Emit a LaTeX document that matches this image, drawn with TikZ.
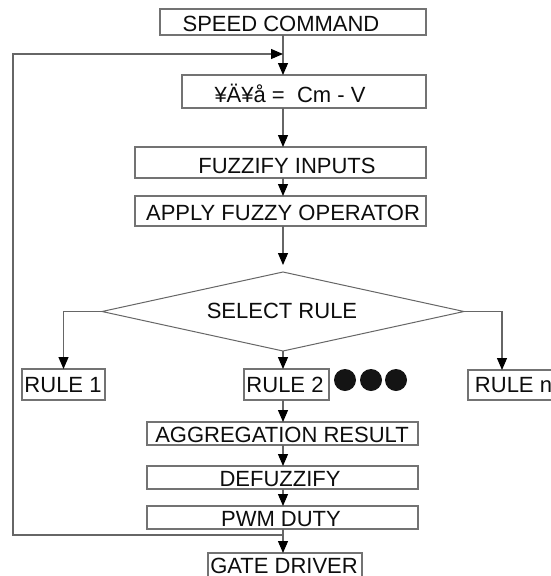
\documentclass[tikz,border=0pt]{standalone}
\usepackage{fontspec}
\setmainfont{Liberation Sans}
\usetikzlibrary{arrows.meta,shapes.geometric}

\begin{document}
\begin{tikzpicture}[x=1pt,y=-1pt,
  box/.style={draw=black!55, line width=1.1pt, inner sep=0pt, outer sep=0pt},
  txt/.style={inner sep=0pt, outer sep=0pt, text=black!95,
    font=\fontsize{22}{26}\selectfont, text height=16pt, text depth=0pt},
  wire/.style={draw=black!60, line width=1.1pt},
  conn/.style={wire, -{Triangle[length=12pt,width=10pt,color=black]}},
  dot/.style={circle, fill=black!92, minimum size=22pt, inner sep=0pt}
]
\useasboundingbox (0,0) rectangle (551,576);
\fill[white] (0,0) rectangle (551,576);
\begin{scope}
\clip (0,0) rectangle (551,576);

% main column of the flow chart
\coordinate (axis) at (283,0);

\node[box, minimum width=266pt, minimum height=26pt] (speed) at (293,22) {};
\node[txt] (speedT) at (281,23) {SPEED COMMAND};

\node[box, minimum width=244pt, minimum height=33pt] (err) at (304,91.5) {};
\node[txt] (errT) at (290,94) {¥Ä¥å =\ \ Cm - V};

\node[box, minimum width=291pt, minimum height=31pt] (fuzz) at (280.5,162.5) {};
\node[txt] (fuzzT) at (287,165) {FUZZIFY INPUTS};

\node[box, minimum width=291pt, minimum height=30pt] (apply) at (280.5,211) {};
\node[txt] (applyT) at (283,212) {APPLY FUZZY OPERATOR};

\node[diamond, draw=black!60, line width=1pt, aspect=4.58, inner sep=0pt,
      outer sep=0pt, minimum width=362pt, minimum height=79pt] (sel) at (283,311.5) {};
\node[txt] (selT) at (282,310) {SELECT RULE};

% rule boxes
\node[box, minimum width=83pt, minimum height=31pt] (r1) at (63.5,384.5) {};
\node[txt] (r1T) at (63,384) {RULE 1};

\node[box, minimum width=85pt, minimum height=31pt] (r2) at (286.5,384.5) {};
\node[txt] (r2T) at (285,384) {RULE 2};

\node[dot] (d1) at (345,380) {};
\node[dot] (d2) at (371,380) {};
\node[dot] (d3) at (396,380) {};

\node[box, minimum width=88pt, minimum height=30pt] (rn) at (512,385) {};
\node[txt] (rnT) at (513.5,384) {RULE n};

% output chain
\node[box, minimum width=271pt, minimum height=23pt] (agg) at (282.5,433.5) {};
\node[txt] (aggT) at (282,434) {AGGREGATION RESULT};

\node[box, minimum width=271pt, minimum height=23pt] (def) at (282.5,477.5) {};
\node[txt] (defT) at (280,478) {DEFUZZIFY};

\node[box, minimum width=271pt, minimum height=23pt] (pwm) at (282.5,517.5) {};
\node[txt] (pwmT) at (281,518) {PWM DUTY};

\node[box, minimum width=154pt, minimum height=27pt] (gate) at (285,566.5) {};
\node[txt] (gateT) at (284,565) {GATE DRIVER};

% connectors down the column
\draw[conn] (speed.south -| axis) -- (err.north -| axis);
\draw[conn] (err.south -| axis) -- (fuzz.north -| axis);
\draw[conn] (fuzz.south -| axis) -- (apply.north -| axis);
\draw[conn, shorten >=7pt] (apply.south -| axis) -- (sel.north);
\draw[conn] (sel.west) -| (r1.north);
\draw[conn] (sel.south) -- (sel.south |- r2.north);
\draw[conn] (sel.east) -| ([xshift=-10pt]rn.north);
\draw[conn] (r2.south -| axis) -- (agg.north -| axis);
\draw[conn] (agg.south -| axis) -- (def.north -| axis);
\draw[conn] (def.south -| axis) -- (pwm.north -| axis);
\draw[conn] (pwm.south -| axis) -- (gate.north -| axis);

% feedback loop back to the error block
\coordinate (fbJoin) at (283,535);
\coordinate (fbLow) at (13,535);
\coordinate (fbHigh) at (13,54);
\coordinate (fbIn) at (283,54);
\draw[conn] (fbJoin) -- (fbLow) -- (fbHigh) -- (fbIn);
\end{scope}
\end{tikzpicture}
\end{document}
